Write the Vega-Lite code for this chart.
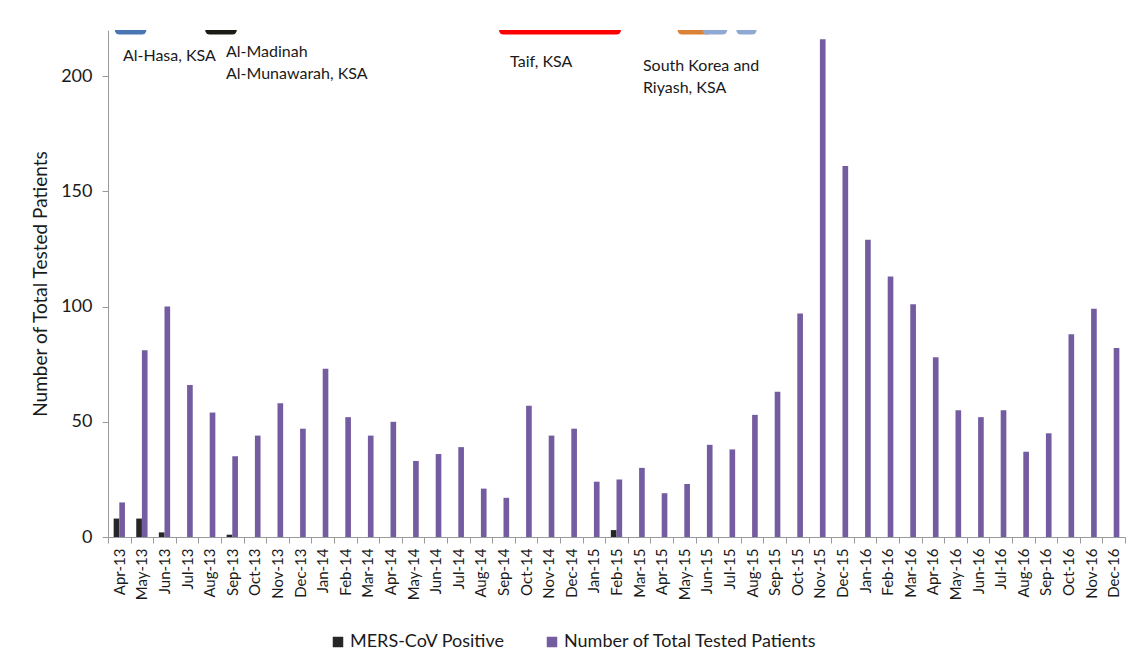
{
  "$schema": "https://vega.github.io/schema/vega-lite/v6.json",
  "width": 1017,
  "height": 507,
  "autosize": {"type": "none"},
  "padding": {"left": 108, "top": 30, "right": 11, "bottom": 131},
  "background": "white",
  "config": {
    "font": "Lato",
    "view": {"stroke": null},
    "axis": {"domainColor": "#9a9a9a", "tickColor": "#9a9a9a", "labelColor": "#1a1a1a", "titleColor": "#1a1a1a", "grid": false, "labelFont": "Lato", "titleFont": "Lato"},
    "legend": {"labelFont": "Lato", "labelColor": "#1a1a1a"}
  },
  "layer": [
    {
      "data": {
        "values": [
          {"month": "Apr-13", "pos": 8, "tested": 15},
          {"month": "May-13", "pos": 8, "tested": 81},
          {"month": "Jun-13", "pos": 2, "tested": 100},
          {"month": "Jul-13", "pos": 0, "tested": 66},
          {"month": "Aug-13", "pos": 0, "tested": 54},
          {"month": "Sep-13", "pos": 1, "tested": 35},
          {"month": "Oct-13", "pos": 0, "tested": 44},
          {"month": "Nov-13", "pos": 0, "tested": 58},
          {"month": "Dec-13", "pos": 0, "tested": 47},
          {"month": "Jan-14", "pos": 0, "tested": 73},
          {"month": "Feb-14", "pos": 0, "tested": 52},
          {"month": "Mar-14", "pos": 0, "tested": 44},
          {"month": "Apr-14", "pos": 0, "tested": 50},
          {"month": "May-14", "pos": 0, "tested": 33},
          {"month": "Jun-14", "pos": 0, "tested": 36},
          {"month": "Jul-14", "pos": 0, "tested": 39},
          {"month": "Aug-14", "pos": 0, "tested": 21},
          {"month": "Sep-14", "pos": 0, "tested": 17},
          {"month": "Oct-14", "pos": 0, "tested": 57},
          {"month": "Nov-14", "pos": 0, "tested": 44},
          {"month": "Dec-14", "pos": 0, "tested": 47},
          {"month": "Jan-15", "pos": 0, "tested": 24},
          {"month": "Feb-15", "pos": 3, "tested": 25},
          {"month": "Mar-15", "pos": 0, "tested": 30},
          {"month": "Apr-15", "pos": 0, "tested": 19},
          {"month": "May-15", "pos": 0, "tested": 23},
          {"month": "Jun-15", "pos": 0, "tested": 40},
          {"month": "Jul-15", "pos": 0, "tested": 38},
          {"month": "Aug-15", "pos": 0, "tested": 53},
          {"month": "Sep-15", "pos": 0, "tested": 63},
          {"month": "Oct-15", "pos": 0, "tested": 97},
          {"month": "Nov-15", "pos": 0, "tested": 216},
          {"month": "Dec-15", "pos": 0, "tested": 161},
          {"month": "Jan-16", "pos": 0, "tested": 129},
          {"month": "Feb-16", "pos": 0, "tested": 113},
          {"month": "Mar-16", "pos": 0, "tested": 101},
          {"month": "Apr-16", "pos": 0, "tested": 78},
          {"month": "May-16", "pos": 0, "tested": 55},
          {"month": "Jun-16", "pos": 0, "tested": 52},
          {"month": "Jul-16", "pos": 0, "tested": 55},
          {"month": "Aug-16", "pos": 0, "tested": 37},
          {"month": "Sep-16", "pos": 0, "tested": 45},
          {"month": "Oct-16", "pos": 0, "tested": 88},
          {"month": "Nov-16", "pos": 0, "tested": 99},
          {"month": "Dec-16", "pos": 0, "tested": 82}
        ]
      },
      "transform": [
        {"fold": ["pos", "tested"], "as": ["key", "value"]},
        {"lookup": "key", "from": {"data": {"values": [{"key": "pos", "series": "MERS-CoV Positive"}, {"key": "tested", "series": "Number of Total Tested Patients"}]}, "key": "key", "fields": ["series"]}}
      ],
      "mark": {"type": "bar"},
      "encoding": {
        "x": {
          "field": "month", "type": "nominal", "sort": null,
          "scale": {"paddingInner": 0, "paddingOuter": 0},
          "axis": {"title": null, "labelAngle": -90, "tickBand": "extent", "tickSize": 6, "labelPadding": 5, "labelFontSize": 15}
        },
        "xOffset": {"field": "series", "type": "nominal", "scale": {"domain": ["MERS-CoV Positive", "Number of Total Tested Patients"], "paddingInner": 0, "paddingOuter": 2.05}},
        "y": {
          "field": "value", "type": "quantitative",
          "scale": {"domain": [0, 220], "nice": false},
          "axis": {"title": "Number of Total Tested Patients", "values": [0, 50, 100, 150, 200], "tickSize": 6, "labelPadding": 10, "labelFontSize": 18, "titleFontSize": 19, "titleFontWeight": "normal", "titlePadding": 10}
        },
        "color": {
          "field": "series", "type": "nominal",
          "scale": {"domain": ["MERS-CoV Positive", "Number of Total Tested Patients"], "range": ["#262626", "#735C9F"]},
          "legend": {"title": null, "orient": "none", "legendX": 221, "legendY": 603, "direction": "horizontal", "symbolType": "square", "symbolSize": 110, "symbolStrokeWidth": 0, "labelFontSize": 18, "labelLimit": 500, "columnPadding": 38, "labelOffset": 3, "padding": 0}
        }
      }
    },
    {
      "data": {
        "values": [
          {"site": "Al-Hasa", "start": 0.5, "end": 1.5, "col": "#4A76B4"},
          {"site": "Al-Madinah", "start": 4.5, "end": 5.5, "col": "#1C1A14"},
          {"site": "Taif", "start": 17.5, "end": 22.5, "col": "#FF0000"},
          {"site": "South Korea", "start": 25.4, "end": 26.5, "col": "#DC8236"},
          {"site": "Riyadh 1", "start": 26.5, "end": 27.2, "col": "#8FA9D3"},
          {"site": "Riyadh 2", "start": 28.0, "end": 28.5, "col": "#8FA9D3"}
        ]
      },
      "mark": {"type": "rule", "strokeWidth": 9, "strokeCap": "round", "clip": true},
      "encoding": {
        "x": {"field": "start", "type": "quantitative", "scale": {"domain": [0, 45], "nice": false, "zero": false}, "axis": null},
        "x2": {"field": "end"},
        "y": {"datum": 220, "type": "quantitative"},
        "stroke": {"field": "col", "type": "nominal", "scale": null}
      }
    },
    {
      "data": {
        "values": [
          {"label": "Al-Hasa, KSA", "xi": 0.66, "yv": 208.7},
          {"label": "Al-Madinah", "xi": 5.22, "yv": 210.5},
          {"label": "Al-Munawarah, KSA", "xi": 5.22, "yv": 200.9},
          {"label": "Taif, KSA", "xi": 17.79, "yv": 206.1},
          {"label": "South Korea and", "xi": 23.67, "yv": 204.4},
          {"label": "Riyash, KSA", "xi": 23.67, "yv": 194.8}
        ]
      },
      "mark": {"type": "text", "align": "left", "baseline": "middle", "fontSize": 16, "font": "Lato", "color": "#1a1a1a"},
      "encoding": {
        "x": {"field": "xi", "type": "quantitative", "scale": {"domain": [0, 45], "nice": false, "zero": false}, "axis": null},
        "y": {"field": "yv", "type": "quantitative"},
        "text": {"field": "label"}
      }
    }
  ],
  "resolve": {"scale": {"x": "independent", "color": "independent"}}
}
